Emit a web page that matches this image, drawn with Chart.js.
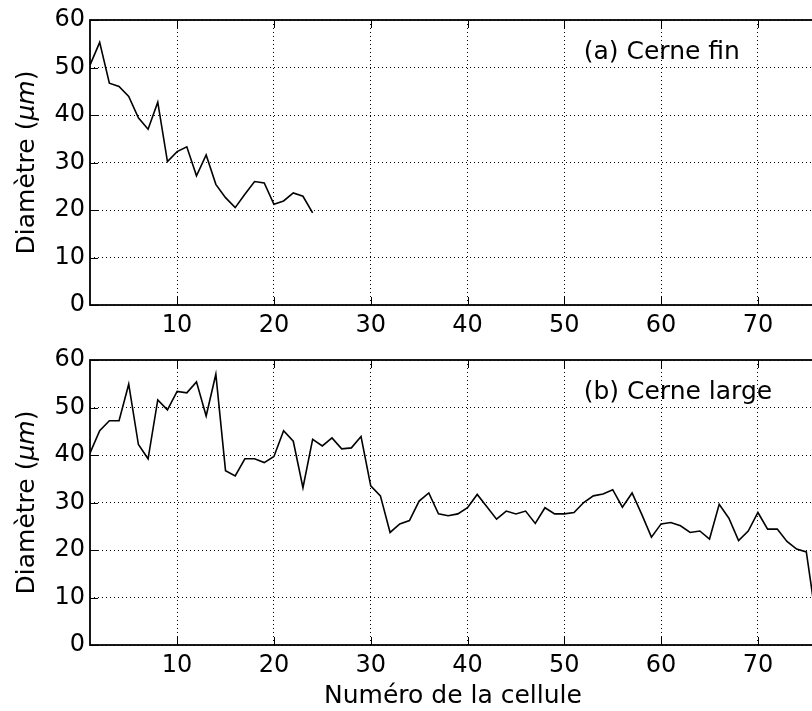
<!DOCTYPE html>
<html>
<head>
<meta charset="utf-8">
<script src="https://cdn.jsdelivr.net/npm/chart.js@4/dist/chart.umd.min.js"></script>
<style>
  html, body { margin: 0; padding: 0; background: #fff; width: 812px; height: 711px; overflow: hidden; }
  .box { position: absolute; left: 0; }
  #boxA { top: 0; width: 830px; height: 340px; }
  #boxB { top: 340px; width: 830px; height: 371px; }
</style>
</head>
<body>
<div class="box" id="boxA"><canvas id="chartA"></canvas></div>
<div class="box" id="boxB"><canvas id="chartB"></canvas></div>
<script>
// diametre des cellules (um), cellule 1..N
const diamFin = [50.5, 55.3, 46.7, 46.0, 43.9, 39.4, 37.0, 42.7, 30.2, 32.3, 33.3, 27.2,
  31.6, 25.4, 22.6, 20.5, 23.3, 26.0, 25.7, 21.2, 21.9, 23.6, 22.9, 19.4];
const diamLarge = [40.4, 45.1, 47.2, 47.2, 54.9, 42.2, 39.2, 51.6, 49.5, 53.4, 53.1, 55.4,
  48.2, 57.0, 36.7, 35.6, 39.2, 39.2, 38.4, 39.7, 45.1, 42.9, 33.1, 43.3,
  41.9, 43.6, 41.3, 41.5, 43.9, 33.5, 31.4, 23.7, 25.5, 26.2, 30.3, 32.0,
  27.6, 27.2, 27.6, 28.9, 31.7, 29.1, 26.5, 28.2, 27.6, 28.2, 25.6, 28.9,
  27.6, 27.6, 27.9, 30.0, 31.4, 31.8, 32.7, 29.0, 32.0, 27.5, 22.7, 25.5,
  25.8, 25.1, 23.7, 24.0, 22.3, 29.6, 26.7, 22.0, 24.0, 27.9, 24.4, 24.4,
  21.8, 20.2, 19.6, 5.5];
const xTicks = [10, 20, 30, 40, 50, 60, 70];
const yTicks = [0, 10, 20, 30, 40, 50, 60];
const labelA = "(a) Cerne fin";
const labelB = "(b) Cerne large";
const yTitle = ["Diamètre (", "μm", ")"];
const xTitle = "Numéro de la cellule";

const FONT = "'DejaVu Sans', sans-serif";
Chart.defaults.font.family = FONT;
Chart.defaults.font.size = 24;
Chart.defaults.color = "#000";

// cadre, traits de graduation vers l'interieur, titre y avec mu italique, texte (a)/(b)
const frame = {
  id: "frame",
  afterDraw(chart, args, opts) {
    const { ctx, chartArea: a, scales } = chart;
    ctx.save();
    ctx.strokeStyle = "#000";
    ctx.lineWidth = 1;
    ctx.beginPath();
    xTicks.forEach(v => {
      const px = Math.round(scales.x.getPixelForValue(v)) + 0.5;
      ctx.moveTo(px, a.bottom); ctx.lineTo(px, a.bottom - 8);
      ctx.moveTo(px, a.top); ctx.lineTo(px, a.top + 8);
    });
    yTicks.forEach(v => {
      const py = Math.round(scales.y.getPixelForValue(v)) + 0.5;
      ctx.moveTo(a.left, py); ctx.lineTo(a.left + 8, py);
    });
    ctx.stroke();
    ctx.lineWidth = 1.8;
    ctx.strokeRect(a.left, a.top, a.right - a.left, a.bottom - a.top);

    ctx.fillStyle = "#000";
    ctx.font = "25px " + FONT;
    ctx.textBaseline = "alphabetic";
    ctx.textAlign = "left";
    ctx.fillText(opts.text, scales.x.getPixelForValue(52), scales.y.getPixelForValue(51.8));

    // titre de l'axe y
    const fonts = ["25px " + FONT, "italic 25px " + FONT, "25px " + FONT];
    const widths = yTitle.map((t, i) => { ctx.font = fonts[i]; return ctx.measureText(t).width; });
    const total = widths.reduce((s, w) => s + w, 0);
    ctx.translate(34, (a.top + a.bottom) / 2);
    ctx.rotate(-Math.PI / 2);
    let x = -total / 2;
    yTitle.forEach((t, i) => {
      ctx.font = fonts[i];
      ctx.fillText(t, x, 0);
      x += widths[i];
    });
    ctx.restore();
  }
};

function makeChart(id, values, label, withTitle) {
  const pts = values.map((d, i) => ({ x: i + 1, y: d }));
  return new Chart(document.getElementById(id), {
    type: "line",
    data: {
      datasets: [{
        data: pts,
        borderColor: "#000",
        borderWidth: 1.6,
        pointRadius: 0,
        tension: 0,
        fill: false,
      }],
    },
    options: {
      responsive: true,
      maintainAspectRatio: false,
      animation: false,
      layout: { padding: { top: 20, right: 14, left: 0, bottom: 0 } },
      plugins: {
        legend: { display: false },
        tooltip: { enabled: false },
        frame: { text: label },
      },
      scales: {
        x: {
          type: "linear",
          min: 1,
          max: 76,
          afterBuildTicks: s => { s.ticks = xTicks.map(v => ({ value: v })); },
          afterFit: s => { s.height = withTitle ? 66 : 35; },
          ticks: { padding: 6, maxRotation: 0, autoSkip: false },
          grid: { color: "#000", lineWidth: 1, drawTicks: false },
          border: { display: false, dash: [1, 3] },
          title: { display: withTitle, text: xTitle, font: { size: 25 }, padding: { top: 0, bottom: 0 } },
        },
        y: {
          min: 0,
          max: 60,
          afterBuildTicks: s => { s.ticks = yTicks.map(v => ({ value: v })); },
          afterFit: s => { s.width = 90; },
          ticks: { padding: 5 },
          grid: { color: "#000", lineWidth: 1, drawTicks: false },
          border: { display: false, dash: [1, 3] },
          title: { display: false },
        },
      },
    },
    plugins: [frame],
  });
}

makeChart("chartA", diamFin, labelA, false);
makeChart("chartB", diamLarge, labelB, true);
</script>
</body>
</html>
